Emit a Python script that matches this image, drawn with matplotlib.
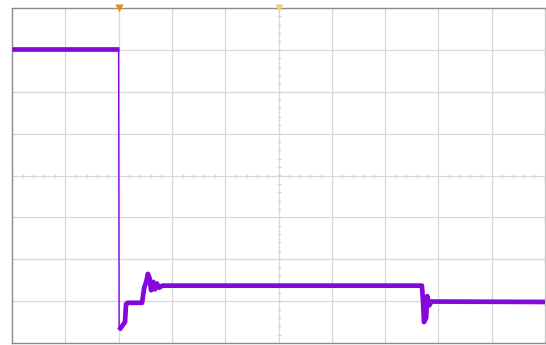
import matplotlib
matplotlib.use("Agg")
import matplotlib.pyplot as plt
import numpy as np

# Scope trace, in screen divisions (10 horizontal x 8 vertical, centre = 0)
time_div = [0.00, 2.00, 2.01, 2.12, 2.14, 2.17, 2.44, 2.48, 2.52, 2.55, 2.58,
            2.61, 2.65, 2.68, 2.72, 2.76, 2.82, 7.69, 7.71, 7.73, 7.77, 7.79,
            7.83, 7.87, 10.00]
volt_div = [3.02, 3.02, -3.69, -3.50, -3.07, -3.04, -3.04, -2.68, -2.53, -2.35, -2.45,
            -2.74, -2.54, -2.72, -2.58, -2.68, -2.63, -2.63, -2.97, -3.50, -3.40, -2.88,
            -3.10, -3.01, -3.02]

# Marker positions along the top edge (trigger point and screen centre)
markers_x = [2.0, 5.0]
marker_colors = ["#f08a10", "#f6c880"]

trace_color = "#8308dc"

fig = plt.figure(figsize=(5.46, 3.45), dpi=100)
ax = fig.add_axes([12 / 546, 2 / 345, 533 / 546, 335 / 345])
ax.set_xlim(0, 10)
ax.set_ylim(-4, 4)

# Graticule
for gx in range(1, 10):
    ax.axvline(gx, color="#d8d8dc", lw=0.9, zorder=1)
for gy in range(-3, 4):
    ax.axhline(gy, color="#d8d8dc", lw=0.9, zorder=1)

# Minor ticks on the centre cross
minor_x = np.arange(0, 10.01, 0.2)
minor_y = np.arange(-4, 4.01, 0.2)
ax.plot(minor_x, np.zeros_like(minor_x), linestyle="none", marker="|",
        markersize=2.5, color="#d4d4d4", mew=0.7, zorder=1)
ax.plot(np.full_like(minor_y, 5.0), minor_y, linestyle="none", marker="_",
        markersize=2.5, color="#d4d4d4", mew=0.7, zorder=1)

# Trace: thin edges, wide noisy band on the settled levels
ax.plot(time_div, volt_div, color=trace_color, lw=1.0, zorder=3)
ax.plot(time_div[:2], volt_div[:2], color=trace_color, lw=3.4,
        solid_capstyle="butt", zorder=3)
ax.plot(time_div[2:], volt_div[2:], color=trace_color, lw=3.4,
        solid_joinstyle="round", solid_capstyle="butt", zorder=3)

# Top-edge markers
for mx, mc in zip(markers_x, marker_colors):
    ax.plot([mx], [4.0], marker="v", markersize=6, color=mc, clip_on=False,
            zorder=4, mec="none")

ax.set_xticks([])
ax.set_yticks([])
for side, sp in ax.spines.items():
    sp.set_color("#8c8c8c")
    sp.set_linewidth(1.0)
ax.spines["right"].set_color("#c8c8c8")

fig.savefig("out.png", dpi=100)
